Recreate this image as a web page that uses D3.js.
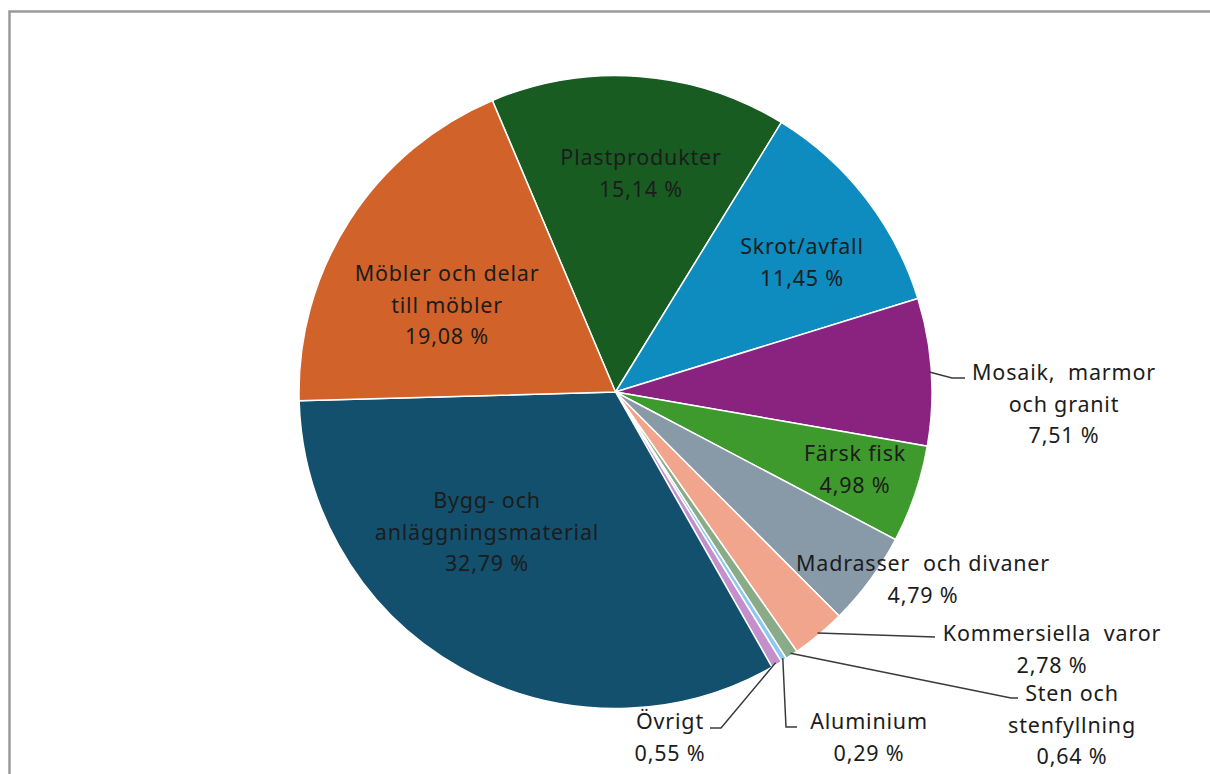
<!DOCTYPE html>
<html>
<head>
<meta charset="utf-8">
<script src="https://cdn.jsdelivr.net/npm/d3@7"></script>
<style>
  body { margin: 0; background: #fff; }
  text { font-family: "Noto Sans", sans-serif; white-space: pre; }
</style>
</head>
<body>
<script>
var w = 1210;
var h = 774;

// data, clockwise from the top slice
var categories = ["Plastprodukter", "Skrot/avfall", "Mosaik,  marmor och granit", "Färsk fisk",
    "Madrasser  och divaner", "Kommersiella  varor", "Sten och stenfyllning", "Aluminium",
    "Övrigt", "Bygg- och anläggningsmaterial", "Möbler och delar till möbler"];
var shares = [15.14, 11.45, 7.51, 4.98, 4.79, 2.78, 0.64, 0.29, 0.55, 32.79, 19.08];
var valueLabels = ["15,14 %", "11,45 %", "7,51 %", "4,98 %", "4,79 %", "2,78 %", "0,64 %", "0,29 %", "0,55 %", "32,79 %", "19,08 %"];
var labelLines = [["Plastprodukter"], ["Skrot/avfall"], ["Mosaik,  marmor", "och granit"], ["Färsk fisk"],
    ["Madrasser  och divaner"], ["Kommersiella  varor"], ["Sten och", "stenfyllning"], ["Aluminium"],
    ["Övrigt"], ["Bygg- och", "anläggningsmaterial"], ["Möbler och delar", "till möbler"]];

var colors = ["#185c22", "#0e8bbf", "#8a2380", "#3e9a2c", "#8899a8", "#f0a58c",
    "#8aab88", "#8ec8ef", "#c390cc", "#12506e", "#d0622a"];

//layout
//************** */
var cx = 615.5, cy = 392, r = 316.5;
var startDeg = -22.9;

// label block centre (x, first line y) in page pixels
var labelPos = [[641, 157], [802, 246], [1064, 372], [855, 453], [923, 563], [1052, 633],
    [1072, 693], [869, 721], [670, 721], [487, 500], [447, 273]];
// leader line points after the slice edge (null = inside label)
var leaders = [null, null, [[952, 378], [965, 378]], null, null, [[935, 637]],
    [[1011, 698], [1018, 698]], [[786, 727], [797, 727]], [[721, 728], [710, 728]], null, null];

var svg = d3.select("body")
    .append("svg")
    .attr("width", w)
    .attr("height", h);

// chart frame
svg.append("path")
    .attr("d", "M9.5,780 V11.5 H1220")
    .attr("fill", "none")
    .attr("stroke", "#9a9a9a")
    .attr("stroke-width", 2.5);

var pie = d3.pie()
    .sort(null)
    .value(function (d) { return d; })
    .startAngle(startDeg * Math.PI / 180)
    .endAngle((startDeg + 360) * Math.PI / 180);

var arc = d3.arc()
    .innerRadius(0)
    .outerRadius(r);

var arcs = pie(shares);

var g = svg.append("g")
    .attr("transform", "translate(" + cx + "," + cy + ")");

g.selectAll("path")
    .data(arcs)
    .enter()
    .append("path")
    .attr("d", arc)
    .style("fill", function (d, i) { return colors[i]; })
    .style("stroke", "#fff")
    .style("stroke-width", 1.5);

// leader lines start on the slice edge at its middle angle
arcs.forEach(function (d, i) {
    if (!leaders[i]) return;
    var a = (d.startAngle + d.endAngle) / 2;
    var p0 = [cx + (r - 2) * Math.sin(a), cy - (r - 2) * Math.cos(a)];
    var pts = [p0].concat(leaders[i]);
    svg.append("path")
        .attr("d", d3.line()(pts))
        .attr("fill", "none")
        .attr("stroke", "#3a3a3a")
        .attr("stroke-width", 1.5);
});

//labels
//************** */
arcs.forEach(function (d, i) {
    var lines = labelLines[i].concat([valueLabels[i]]);
    var t = svg.append("text")
        .attr("text-anchor", "middle")
        .attr("font-size", 21.5)
        .attr("letter-spacing", 0.8)
        .attr("fill", "#1c1c1c");
    lines.forEach(function (s, k) {
        t.append("tspan")
            .attr("x", labelPos[i][0])
            .attr("y", labelPos[i][1] + k * 31.5 + 8)
            .text(s);
    });
});
</script>
</body>
</html>
